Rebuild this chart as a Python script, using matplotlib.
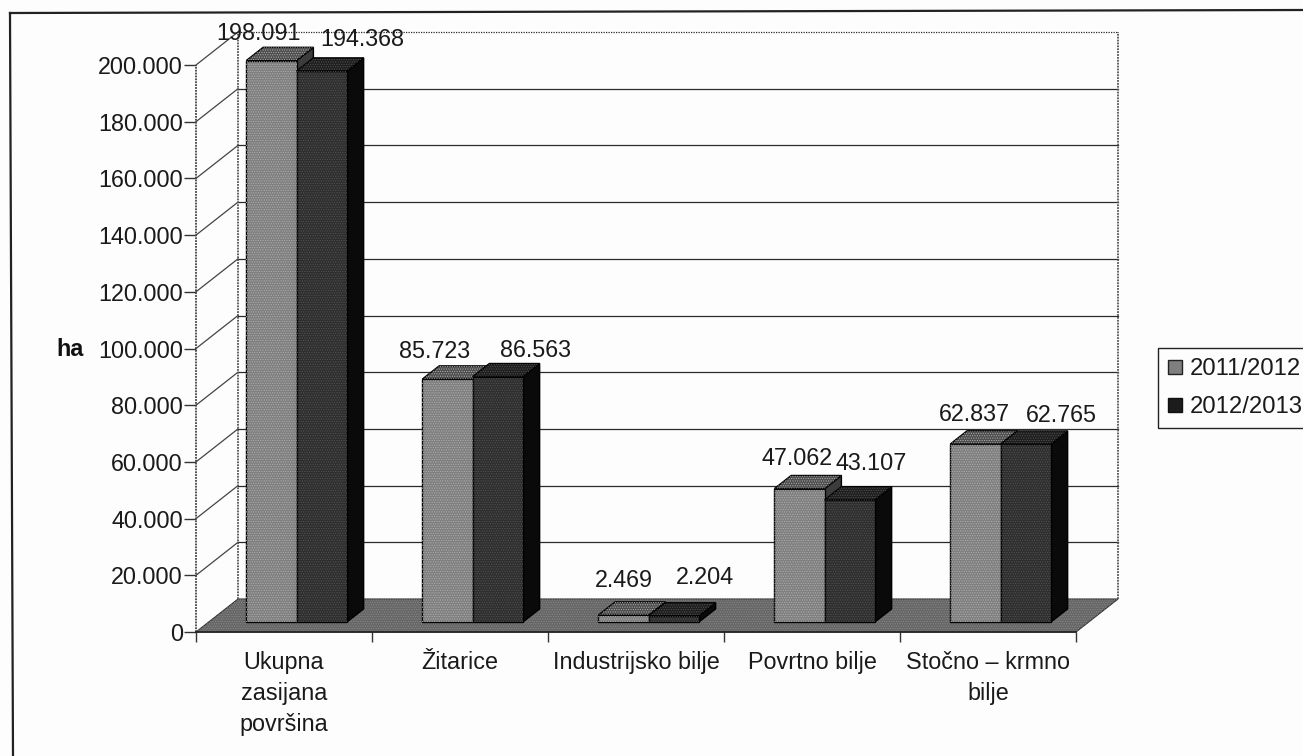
import matplotlib
matplotlib.use('Agg')
import matplotlib.pyplot as plt
from matplotlib.lines import Line2D
from matplotlib.patches import Polygon

plt.rcParams['font.family'] = ['Liberation Sans', 'DejaVu Sans']
plt.rcParams['hatch.linewidth'] = 0.5

# data
categories = ['Ukupna\nzasijana\npovršina', 'Žitarice', 'Industrijsko bilje',
              'Povrtno bilje', 'Stočno – krmno\nbilje']
vals_2011 = [198091, 85723, 2469, 47062, 62837]
vals_2012 = [194368, 86563, 2204, 43107, 62765]
series_names = ['2011/2012', '2012/2013']
y_ticks = [0, 20000, 40000, 60000, 80000, 100000, 120000, 140000, 160000, 180000, 200000]

# label nudges in pixels, the labels are placed by hand in the original
label_dx_2011 = [-12.5, -12.5, 0, -2.5, -1.5]
label_dy_2011 = [27.5, 28, 35, 30, 29]
label_dx_2012 = [41, 38, 31, 21, 36]
label_dy_2012 = [32, 26, 38, 36, 29]

W, H = 1303, 756
fig = plt.figure(figsize=(W/100, H/100), dpi=100, facecolor='#fdfdfd')

# front plane of the fake 3d box
left, right, bottom, top = 196, 1076, 632, 65
ax = fig.add_axes([left/W, 1-bottom/H, (right-left)/W, (bottom-top)/H])
ax.set_xlim(0, 5)
ax.set_ylim(0, 200000)
ax.patch.set_alpha(0)
for s in ax.spines.values():
    s.set_visible(False)

# depth of the box, in data units
px_x = 5/(right-left)
px_y = 200000/(bottom-top)
depth_x = 42*px_x
depth_y = 33*px_y


def d3(x, y, d):
    # move a point d (0 front .. 1 back) into the box
    return (x + d*depth_x, y + d*depth_y)


def poly(pts, fc, z, ec='black', lw=1.0, dots=None):
    ax.add_patch(Polygon(pts, closed=True, facecolor=fc, edgecolor=ec, linewidth=lw,
                         zorder=z, clip_on=False, joinstyle='miter'))
    # halftone look of the scan
    if dots is not None:
        ax.add_patch(Polygon(pts, closed=True, facecolor='none', edgecolor=dots, linewidth=0,
                             hatch='.......', zorder=z + 0.01, clip_on=False))


# floor
poly([d3(0, 0, 0), d3(5, 0, 0), d3(5, 0, 1), d3(0, 0, 1)], '#666666', 1, ec='#333333', lw=0.8,
     dots='#8a8a8a')

# walls and grid
for v in y_ticks:
    a = d3(0, v, 0)
    b = d3(0, v, 1)
    c = d3(5, v, 1)
    if v > 0:
        ax.plot([a[0], b[0]], [a[1], b[1]], color='#444444', lw=0.9, zorder=2, clip_on=False)
        ls = (0, (1, 1)) if v == 200000 else '-'
        ax.plot([b[0], c[0]], [b[1], c[1]], color='#2a2a2a', lw=0.9, ls=ls, zorder=2, clip_on=False)
for xx in [0, 5]:
    a = d3(xx, 0, 1)
    b = d3(xx, 200000, 1)
    ax.plot([a[0], b[0]], [a[1], b[1]], color='#555555', lw=1.3, ls=(0, (1, 0.6)), zorder=2, clip_on=False)
ax.plot([0, 0], [0, 200000], color='#444444', lw=1.3, ls=(0, (1, 0.6)), zorder=2, clip_on=False)
ax.plot([0, 5], [0, 0], color='#222222', lw=1.2, zorder=3, clip_on=False)

# bars
bar_w = 0.2855
d0, d1 = 0.30, 0.70
colors = [('#7f7f7f', '#4d4d4d', '#3c3c3c', '#b0b0b0'),
          ('#2e2e2e', '#1e1e1e', '#0a0a0a', '#555555')]
for n, vals in enumerate([vals_2011, vals_2012]):
    for i, v in enumerate(vals):
        x0 = i + 0.5 - bar_w + n*bar_w
        x1 = x0 + bar_w
        front, top_c, side, dot = colors[n]
        z = 4 + i + n*0.1
        poly([d3(x1, 0, d0), d3(x1, 0, d1), d3(x1, v, d1), d3(x1, v, d0)], side, z)
        poly([d3(x0, v, d0), d3(x1, v, d0), d3(x1, v, d1), d3(x0, v, d1)], top_c, z, dots=dot)
        poly([d3(x0, 0, d0), d3(x1, 0, d0), d3(x1, v, d0), d3(x0, v, d0)], front, z + 0.05, dots=dot)


# value labels
def fmt(v):
    return f'{v:,}'.replace(',', '.')


for n, (vals, dxs, dys) in enumerate([(vals_2011, label_dx_2011, label_dy_2011),
                                      (vals_2012, label_dx_2012, label_dy_2012)]):
    for i, v in enumerate(vals):
        x0 = i + 0.5 - bar_w + n*bar_w
        p = d3(x0 + bar_w/2, v, d0)
        ax.annotate(fmt(v), p, xytext=(dxs[i]*0.72, dys[i]*0.72), textcoords='offset points',
                    ha='center', va='center', fontsize=16.8, color='#1a1a1a', zorder=20,
                    annotation_clip=False)

# axes ticks
ax.set_yticks(y_ticks)
ax.set_yticklabels([fmt(v) for v in y_ticks], fontsize=16.8, color='#1a1a1a')
ax.tick_params(axis='y', length=8.5, width=1.0, pad=1.0, color='#333333')
ax.set_xticks(range(6))
ax.set_xticklabels([])
ax.tick_params(axis='x', which='major', length=7, width=1.0, color='#333333')
ax.set_xticks([i + 0.5 for i in range(5)], minor=True)
ax.set_xticklabels(categories, minor=True, fontsize=16.8, color='#1a1a1a', linespacing=1.42)
ax.tick_params(axis='x', which='minor', length=0, pad=14)

fig.text(70/W, 1-349/H, 'ha', fontsize=16.8, fontweight='bold', ha='center', va='center', color='#111111')

# outer frame, the scan is slightly rotated and cuts it off right and bottom
fig.add_artist(Line2D([10/W, 13/W], [1-13/H, 0], color='#222222', lw=1.6))
fig.add_artist(Line2D([10/W, 1], [1-13/H, 1-10/H], color='#222222', lw=1.6))

handles = [Line2D([], [], ls='none', marker='s', markersize=9.5, markerfacecolor='#7f7f7f',
                  markeredgecolor='#222222', label=series_names[0]),
           Line2D([], [], ls='none', marker='s', markersize=9.5, markerfacecolor='#1c1c1c',
                  markeredgecolor='#111111', label=series_names[1])]
leg = ax.legend(handles=handles, loc='upper left', bbox_to_anchor=(1158/W, 1-348/H),
                bbox_transform=fig.transFigure, borderaxespad=0, fontsize=17.2,
                handlelength=0.6, handletextpad=0.3,
                labelspacing=0.68, borderpad=0.42, frameon=True, fancybox=False,
                facecolor='#fdfdfd', edgecolor='#222222', framealpha=1)
leg.get_frame().set_linewidth(1.0)
leg.set_zorder(30)
for t in leg.get_texts():
    t.set_color('#1a1a1a')

fig.savefig('out.png', dpi=100, facecolor=fig.get_facecolor())
